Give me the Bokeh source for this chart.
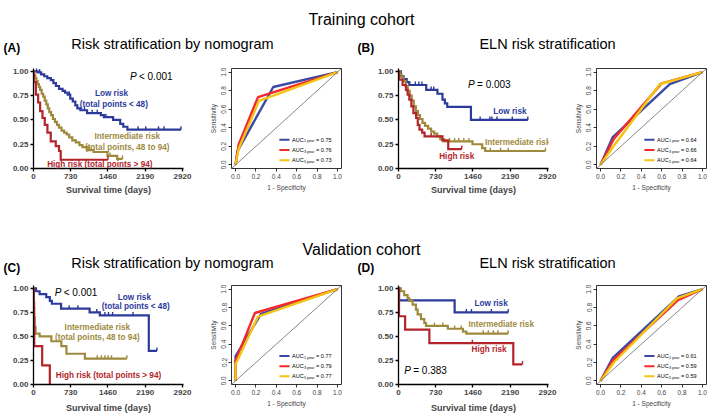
import numpy as np
from math import pi
from bokeh.plotting import figure
from bokeh.models import Range1d, FixedTicker, NumeralTickFormatter, Label, Slope
from bokeh.layouts import column, row
from bokeh.embed import file_html
from bokeh.resources import INLINE

FONT = "Liberation Sans"
BLUE, OLIVE, RED = "#2b3a9b", "#9e8a3d", "#b3242b"
ROC_BLUE, ROC_RED, ROC_YEL = "#3a4aa5", "#f42a2a", "#f3c412"

# ---------------- data ----------------
X_TICKS = [0, 730, 1460, 2190, 2920]
Y_TICKS = [0.0, 0.25, 0.50, 0.75, 1.00]
ROC_TICKS = [0.0, 0.2, 0.4, 0.6, 0.8, 1.0]

# (A) training, nomogram
A_low_t = [0, 80, 150, 210, 270, 340, 390, 440, 500, 570, 620, 670, 720, 770, 820, 860, 920, 1050, 1320, 1380, 1560, 1700, 1760, 1840]
A_low_s = [1.0, 0.99, 0.97, 0.95, 0.93, 0.91, 0.88, 0.85, 0.82, 0.80, 0.78, 0.76, 0.72, 0.69, 0.65, 0.62, 0.60, 0.57, 0.55, 0.53, 0.50, 0.46, 0.43, 0.40]
A_low_end = 2890
A_low_cens = [60, 120, 700, 1000, 1150, 1250, 1420, 2050, 2200, 2450, 2560, 2890]
A_int_t = [0, 15, 35, 55, 80, 105, 130, 160, 190, 220, 250, 280, 310, 345, 380, 420, 460, 500, 550, 600, 650, 700, 760, 830, 900, 960, 1060, 1180, 1450, 1640]
A_int_s = [1.0, 0.96, 0.93, 0.90, 0.87, 0.84, 0.81, 0.77, 0.74, 0.70, 0.66, 0.62, 0.58, 0.55, 0.51, 0.48, 0.45, 0.42, 0.39, 0.37, 0.35, 0.32, 0.29, 0.27, 0.24, 0.22, 0.19, 0.17, 0.13, 0.10]
A_int_end = 1745
A_int_cens = [1100, 1500, 1745]
A_high_t = [0, 5, 46, 91, 130, 176, 221, 273, 338, 436, 500, 533]
A_high_s = [1.0, 0.89, 0.76, 0.68, 0.59, 0.52, 0.45, 0.37, 0.28, 0.23, 0.18, 0.09]
A_high_end = 1460
A_high_cens = [1460]

# (B) training, ELN
B_low_t = [0, 46, 100, 160, 212, 544, 763, 862, 909, 955, 1420]
B_low_s = [1.0, 0.95, 0.92, 0.89, 0.86, 0.81, 0.77, 0.71, 0.67, 0.635, 0.50]
B_low_end = 2535
B_low_cens = [330, 400, 460, 640, 690, 1600, 1790, 1830, 1930, 2230, 2535]
B_int_t = [0, 25, 60, 100, 140, 180, 220, 260, 300, 340, 380, 420, 470, 520, 580, 640, 700, 760, 820, 880, 1450, 1640, 1700]
B_int_s = [1.0, 0.97, 0.94, 0.90, 0.85, 0.80, 0.75, 0.70, 0.64, 0.59, 0.55, 0.51, 0.47, 0.44, 0.41, 0.38, 0.36, 0.33, 0.30, 0.28, 0.25, 0.21, 0.18]
B_int_end = 2880
B_int_cens = [900, 1000, 1100, 1180, 1280, 1380, 1800, 2000, 2150, 2880]
B_high_t = [0, 10, 80, 146, 179, 212, 252, 292, 345, 378, 411, 464, 511, 862, 975]
B_high_s = [1.0, 0.915, 0.86, 0.81, 0.76, 0.71, 0.64, 0.57, 0.52, 0.45, 0.40, 0.37, 0.33, 0.29, 0.20]
B_high_end = 1240
B_high_cens = [640, 1240]

# (C) validation, nomogram
C_low_t = [0, 50, 120, 250, 320, 360, 540, 1100, 1300, 2260]
C_low_s = [1.0, 0.97, 0.94, 0.91, 0.87, 0.84, 0.79, 0.75, 0.72, 0.35]
C_low_end = 2420
C_low_cens = [700, 870, 1240, 1400, 1470, 1550, 1950, 2420]
C_int_t = [0, 8, 15, 25, 40, 120, 350, 547, 646, 1008]
C_int_s = [1.0, 0.85, 0.70, 0.60, 0.53, 0.50, 0.45, 0.40, 0.32, 0.27]
C_int_end = 1830
C_int_cens = [1250, 1330, 1400, 1460, 1530, 1830]
C_high_t = [0, 5, 10, 15, 170, 320]
C_high_s = [1.0, 0.80, 0.60, 0.40, 0.20, 0.0]
C_high_end = 320
C_high_cens = []

# (D) validation, ELN
D_low_t = [0, 10, 1100]
D_low_s = [1.0, 0.875, 0.75]
D_low_end = 2150
D_low_cens = [1330, 1430, 1820, 2150]
D_int_t = [0, 46, 112, 178, 210, 276, 342, 375, 441, 506, 539, 967, 1263, 1329]
D_int_s = [1.0, 0.97, 0.93, 0.90, 0.87, 0.83, 0.78, 0.73, 0.68, 0.64, 0.61, 0.58, 0.55, 0.53]
D_int_end = 2150
D_int_cens = [704, 868, 1100, 1230, 1660, 1760, 1860, 1950, 2150]
D_high_t = [0, 10, 130, 605, 2250]
D_high_s = [1.0, 0.71, 0.57, 0.43, 0.21]
D_high_end = 2430
D_high_cens = [1447, 2430]

# ROC curves: (false positive rate, true positive rate) for 1, 3, 5 years
ROC_LABELS = ["1 year", "3 year", "5 year"]
ROC_A_fpr = [[0, 0.02, 0.37, 1], [0, 0.03, 0.22, 1], [0, 0.03, 0.23, 1]]
ROC_A_tpr = [[0, 0.15, 0.84, 1], [0, 0.22, 0.73, 1], [0, 0.17, 0.69, 1]]
ROC_A_auc = ["0.75", "0.76", "0.73"]
ROC_B_fpr = [[0, 0.12, 0.68, 1], [0, 0.13, 0.60, 1], [0, 0.14, 0.58, 1]]
ROC_B_tpr = [[0, 0.30, 0.87, 1], [0, 0.28, 0.88, 1], [0, 0.22, 0.87, 1]]
ROC_B_auc = ["0.64", "0.66", "0.64"]
ROC_C_fpr = [[0, 0.0, 0.25, 1], [0, 0.0, 0.19, 1], [0, 0.0, 0.22, 1]]
ROC_C_tpr = [[0, 0.27, 0.73, 1], [0, 0.22, 0.74, 1], [0, 0.18, 0.70, 1]]
ROC_C_auc = ["0.77", "0.79", "0.77"]
ROC_D_fpr = [[0, 0.12, 0.77, 1], [0, 0.12, 0.76, 1], [0, 0.13, 0.75, 1]]
ROC_D_tpr = [[0, 0.25, 0.92, 1], [0, 0.22, 0.88, 1], [0, 0.20, 0.90, 1]]
ROC_D_auc = ["0.61", "0.59", "0.59"]


# ---------------- helpers ----------------
def surv_at(t, s, x):
    idx = np.searchsorted(np.asarray(t), np.asarray(x, dtype=float), side="right") - 1
    return np.asarray(s)[idx]


def lab(p, x, y, text, size, color="black", style="normal", align="center",
        baseline="middle", angle=0, xo=0, yo=0):
    p.add_layout(Label(x=x, y=y, text=text, text_font=FONT, text_font_size=size,
                       text_font_style=style, text_color=color, text_align=align,
                       text_baseline=baseline, angle=angle, x_offset=xo, y_offset=yo))


def km_fig(width, height, bl, bt, bb, lstand, curves, notes, ptext, ppos, os_off):
    fw = 150
    p = figure(width=width, height=height, x_range=Range1d(0, 2940), y_range=Range1d(0, 1.03),
               output_backend="svg", toolbar_location=None,
               min_border_left=bl, min_border_right=width - bl - fw,
               min_border_top=bt, min_border_bottom=bb)
    p.grid.visible = False
    p.outline_line_color = None
    for t, s, end, cens, c in curves:
        xs = list(t) + [end]
        ys = list(s) + [s[-1]]
        p.step(xs, ys, mode="after", line_width=2.2, line_color=c, line_join="miter")
        if len(cens):
            cy = surv_at(t, s, cens)
            p.segment(x0=cens, y0=cy, x1=cens, y1=cy + 0.035, line_width=1.4, line_color=c)
    p.xaxis.ticker = FixedTicker(ticks=X_TICKS)
    p.yaxis.ticker = FixedTicker(ticks=Y_TICKS)
    p.yaxis.formatter = NumeralTickFormatter(format="0.00")
    for ax in (p.xaxis[0], p.yaxis[0]):
        ax.axis_line_width = 1.3
        ax.major_tick_line_width = 1.3
        ax.major_tick_out = 3
        ax.major_tick_in = 0
        ax.minor_tick_out = 0
        ax.minor_tick_in = 0
        ax.major_label_text_font = FONT
        ax.major_label_text_font_style = "bold"
        ax.major_label_text_font_size = "8px"
        ax.major_label_standoff = 2
    p.xaxis.axis_label = "Survival time (days)"
    p.xaxis.axis_label_text_font = FONT
    p.xaxis.axis_label_text_font_style = "bold"
    p.xaxis.axis_label_text_font_size = "9px"
    p.xaxis.axis_label_standoff = lstand
    lab(p, 0, 0.5, "OS", "10px", style="bold", angle=pi / 2, xo=os_off)
    for text, x, y, c in notes:
        lab(p, x, y, text, "8.2px", color=c, style="bold")
    px, py = ppos
    lab(p, px, py, "P", "10px", style="italic", align="left")
    lab(p, px, py, ptext, "10px", align="left", xo=9)
    return p


def roc_fig(width, height, bl, fw, bt, bb, fprs, tprs, aucs):
    p = figure(width=width, height=height, x_range=Range1d(-0.04, 1.04), y_range=Range1d(-0.04, 1.04),
               output_backend="svg", toolbar_location=None,
               min_border_left=bl, min_border_right=width - bl - fw,
               min_border_top=bt, min_border_bottom=bb)
    p.grid.visible = False
    p.outline_line_color = "black"
    p.outline_line_width = 0.8
    p.add_layout(Slope(gradient=1, y_intercept=0, line_color="#555555", line_width=0.7))
    cols = [ROC_BLUE, ROC_RED, ROC_YEL]
    for f, t, c in zip(fprs, tprs, cols):
        p.line(f, t, line_width=2.4, line_color=c)
    p.xaxis.ticker = FixedTicker(ticks=ROC_TICKS)
    p.yaxis.ticker = FixedTicker(ticks=ROC_TICKS)
    p.xaxis.formatter = NumeralTickFormatter(format="0.0")
    p.yaxis.formatter = NumeralTickFormatter(format="0.0")
    for ax in (p.xaxis[0], p.yaxis[0]):
        ax.axis_line_color = None
        ax.major_tick_line_width = 0.8
        ax.major_tick_out = 3
        ax.major_tick_in = 0
        ax.minor_tick_out = 0
        ax.minor_tick_in = 0
        ax.major_label_text_font = FONT
        ax.major_label_text_font_size = "6.5px"
        ax.major_label_standoff = 2
        ax.axis_label_text_font = FONT
        ax.axis_label_text_font_style = "normal"
        ax.axis_label_text_font_size = "6.5px"
        ax.axis_label_standoff = 2
    p.yaxis.major_label_orientation = "vertical"
    p.xaxis.axis_label = "1 - Specificity"
    p.yaxis.axis_label = "Sensitivity"
    lab(p, 0.5, 1.04, "Time-dependent ROC curve", "7px", baseline="bottom", yo=2)
    leg_y = [0.27, 0.16, 0.05]
    for yy, c, sub, a in zip(leg_y, cols, ROC_LABELS, aucs):
        p.segment(x0=[0.43], y0=[yy], x1=[0.53], y1=[yy], line_color=c, line_width=2)
        lab(p, 0.555, yy, "AUC", "5.5px", align="left")
        lab(p, 0.555, yy, sub, "3.8px", align="left", xo=11.8, yo=-1.6)
        lab(p, 0.555, yy, "= " + a, "5.5px", align="left", xo=24)
    return p


def header(h, items):
    p = figure(width=709, height=h, x_range=Range1d(0, 709), y_range=Range1d(h, 0),
               output_backend="svg", toolbar_location=None, min_border=0,
               x_axis_type=None, y_axis_type=None)
    p.grid.visible = False
    p.outline_line_color = None
    for text, x, y, size, style, align in items:
        lab(p, x, y, text, size, style=style, align=align)
    return p


# ---------------- build ----------------
H1 = header(56, [
    ("Training cohort", 361, 19, "16px", "normal", "center"),
    ("(A)", 3, 47, "12px", "bold", "left"),
    ("Risk stratification by nomogram", 172, 43, "14.5px", "normal", "center"),
    ("(B)", 357, 47, "12px", "bold", "left"),
    ("ELN risk stratification", 547, 43, "14.5px", "normal", "center"),
])

kmA = km_fig(194, 146, 33, 11, 34, 3,
             [(A_low_t, A_low_s, A_low_end, A_low_cens, BLUE),
              (A_int_t, A_int_s, A_int_end, A_int_cens, OLIVE),
              (A_high_t, A_high_s, A_high_end, A_high_cens, RED)],
             [("Low risk", 1530, 0.77, BLUE), ("(total points < 48)", 1575, 0.66, BLUE),
              ("Intermediate risk", 1837, 0.33, OLIVE), ("(total points, 48 to 94)", 1837, 0.22, OLIVE),
              ("High risk (total points > 94)", 1300, 0.04, RED)],
             "< 0.001", (1890, 0.95), -21)
rocA = roc_fig(164, 146, 37, 110, 12, 27, ROC_A_fpr, ROC_A_tpr, ROC_A_auc)
kmB = km_fig(204, 146, 40, 11, 34, 3,
             [(B_low_t, B_low_s, B_low_end, B_low_cens, BLUE),
              (B_int_t, B_int_s, B_int_end, B_int_cens, OLIVE),
              (B_high_t, B_high_s, B_high_end, B_high_cens, RED)],
             [("Low risk", 2183, 0.59, BLUE), ("Intermediate risk", 2336, 0.27, OLIVE),
              ("High risk", 1141, 0.12, RED)],
             "= 0.003", (1363, 0.87), -29)
rocB = roc_fig(147, 146, 34, 110, 12, 27, ROC_B_fpr, ROC_B_tpr, ROC_B_auc)

H2 = header(73, [
    ("Validation cohort", 361, 47, "16px", "normal", "center"),
    ("(C)", 3, 65, "12px", "bold", "left"),
    ("Risk stratification by nomogram", 172, 60, "14.5px", "normal", "center"),
    ("(D)", 357, 65, "12px", "bold", "left"),
    ("ELN risk stratification", 547, 60, "14.5px", "normal", "center"),
])

kmC = km_fig(194, 145, 33, 8, 36, 5,
             [(C_low_t, C_low_s, C_low_end, C_low_cens, BLUE),
              (C_int_t, C_int_s, C_int_end, C_int_cens, OLIVE),
              (C_high_t, C_high_s, C_high_end, C_high_cens, RED)],
             [("Low risk", 1977, 0.91, BLUE), ("(total points < 48)", 2003, 0.81, BLUE),
              ("Intermediate risk", 1252, 0.59, OLIVE), ("(total points, 48 to 94)", 1252, 0.49, OLIVE),
              ("High risk (total points > 94)", 1470, 0.096, RED)],
             "< 0.001", (415, 0.96), -23)
rocC = roc_fig(164, 145, 37, 110, 10, 29, ROC_C_fpr, ROC_C_tpr, ROC_C_auc)
kmD = km_fig(204, 145, 40, 8, 36, 5,
             [(D_low_t, D_low_s, D_low_end, D_low_cens, BLUE),
              (D_int_t, D_int_s, D_int_end, D_int_cens, OLIVE),
              (D_high_t, D_high_s, D_high_end, D_high_cens, RED)],
             [("Low risk", 1815, 0.84, BLUE), ("Intermediate risk", 2013, 0.62, OLIVE),
              ("High risk", 1776, 0.36, RED)],
             "= 0.383", (112, 0.15), -29)
rocD = roc_fig(147, 145, 34, 110, 10, 29, ROC_D_fpr, ROC_D_tpr, ROC_D_auc)

layout = column(H1, row(kmA, rocA, kmB, rocB), H2, row(kmC, rocC, kmD, rocD))

open("out.html", "w").write(file_html(layout, INLINE))
